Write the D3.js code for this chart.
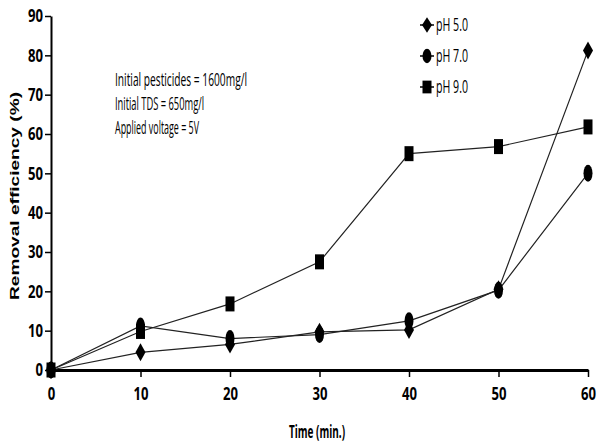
<!DOCTYPE html>
<html>
<head>
<meta charset="utf-8">
<script src="https://cdn.jsdelivr.net/npm/d3@7"></script>
<style>
  body { margin: 0; background: #fff; }
  .tick text { font-family: "Open Sans", "DejaVu Sans", sans-serif; font-weight: bold; font-size: 18px; fill: #000; }
</style>
</head>
<body>
<div id="chart"></div>
<script>
// data
const times = [0, 10, 20, 30, 40, 50, 60];
const ph5 = [0, 4.5, 6.5, 9.7, 10.2, 20.5, 81.2];
const ph7 = [0, 11.2, 8.0, 9.0, 12.5, 20.3, 50.0];
const ph9 = [0, 9.8, 16.8, 27.5, 55.0, 56.8, 61.8];
const seriesNames = ['pH 5.0', 'pH 7.0', 'pH 9.0'];
const markerTypes = ['diamond', 'circle', 'square'];
const xTicks = [0, 10, 20, 30, 40, 50, 60];
const yTicks = [0, 10, 20, 30, 40, 50, 60, 70, 80, 90];
const notes = ['Initial pesticides = 1600mg/l', 'Initial TDS = 650mg/l', 'Applied voltage = 5V'];
const noteWidths = [132, 89, 84];

const w = 602, h = 442;
const condensed = '"Open Sans", "Liberation Sans", sans-serif';

const svg = d3.select('#chart')
  .append('svg')
  .attr('width', w)
  .attr('height', h)
  .style('background-color', '#fff');

const xScale = d3.scaleLinear().domain([0, 60]).range([51, 588]);
const yScale = d3.scaleLinear().domain([0, 90]).range([370, 16]);

// squeeze tick labels to look like the narrow bold font of the original
const squeeze = sel => sel.selectAll('.tick text')
  .attr('textLength', function() { return this.textContent.length * 7.5; })
  .attr('lengthAdjust', 'spacingAndGlyphs');

// y axis
const yAxis = svg.append('g')
  .attr('transform', 'translate(51,0)')
  .call(d3.axisLeft(yScale).tickValues(yTicks).tickSize(6).tickSizeOuter(0).tickPadding(2));
yAxis.select('.domain').attr('stroke', '#000').attr('stroke-width', 2);
yAxis.selectAll('.tick line').attr('stroke', '#000').attr('stroke-width', 1.5);
squeeze(yAxis);

// x axis
const xAxis = svg.append('g')
  .attr('transform', 'translate(0,370)')
  .call(d3.axisBottom(xScale).tickValues(xTicks).tickSize(7).tickSizeOuter(0).tickPadding(10));
xAxis.select('.domain').attr('stroke', '#000').attr('stroke-width', 3);
xAxis.selectAll('.tick line').attr('stroke', '#000').attr('stroke-width', 1.5);
squeeze(xAxis);

// axis titles
svg.append('text')
  .attr('x', 317)
  .attr('y', 438)
  .attr('text-anchor', 'middle')
  .attr('textLength', 56)
  .attr('lengthAdjust', 'spacingAndGlyphs')
  .style('font-family', condensed)
  .style('font-weight', 'bold')
  .style('font-size', '17px')
  .text('Time (min.)');

svg.append('text')
  .attr('transform', 'translate(19,196) rotate(-90)')
  .attr('text-anchor', 'middle')
  .attr('textLength', 208)
  .attr('lengthAdjust', 'spacingAndGlyphs')
  .style('font-family', '"Liberation Sans", Arial, sans-serif')
  .style('font-weight', 'bold')
  .style('font-size', '12px')
  .text('Removal efficiency (%)');

// markers
const markerPath = (type) => {
  if (type === 'diamond') return 'M0,-9L5,0L0,9L-5,0Z';
  if (type === 'circle') return 'M-4.5,0a4.5,8.5 0 1,0 9,0a4.5,8.5 0 1,0 -9,0Z';
  return 'M-4.5,-7.5h9v15h-9Z';
};

const series = [ph5, ph7, ph9];
const line = d3.line()
  .x((d, i) => xScale(times[i]))
  .y(d => yScale(d));

series.forEach((s) => {
  svg.append('path')
    .datum(s)
    .attr('d', line)
    .attr('fill', 'none')
    .attr('stroke', '#222')
    .attr('stroke-width', 1.2);
});

series.forEach((s, k) => {
  svg.selectAll('.m' + k)
    .data(s)
    .enter()
    .append('path')
    .attr('class', 'm' + k)
    .attr('transform', (d, i) => 'translate(' + xScale(times[i]) + ',' + yScale(d) + ')')
    .attr('d', markerPath(markerTypes[k]))
    .attr('fill', '#000');
});

// legend
const legendY = [25, 56, 87];
seriesNames.forEach((name, k) => {
  const g = svg.append('g').attr('transform', 'translate(427,' + legendY[k] + ')');
  g.append('line').attr('x1', -7).attr('x2', 7).attr('stroke', '#000').attr('stroke-width', 1.5);
  g.append('path').attr('d', markerPath(markerTypes[k])).attr('fill', '#000')
    .attr('transform', 'scale(1,0.85)');
  g.append('text')
    .attr('x', 9)
    .attr('y', 6)
    .attr('textLength', 32)
    .attr('lengthAdjust', 'spacingAndGlyphs')
    .style('font-family', condensed)
    .style('font-size', '18px')
    .text(name);
});

// notes
notes.forEach((t, i) => {
  svg.append('text')
    .attr('x', 115)
    .attr('y', 86 + i * 24)
    .attr('textLength', noteWidths[i])
    .attr('lengthAdjust', 'spacingAndGlyphs')
    .style('font-family', condensed)
    .style('font-size', '19px')
    .text(t);
});
</script>
</body>
</html>
